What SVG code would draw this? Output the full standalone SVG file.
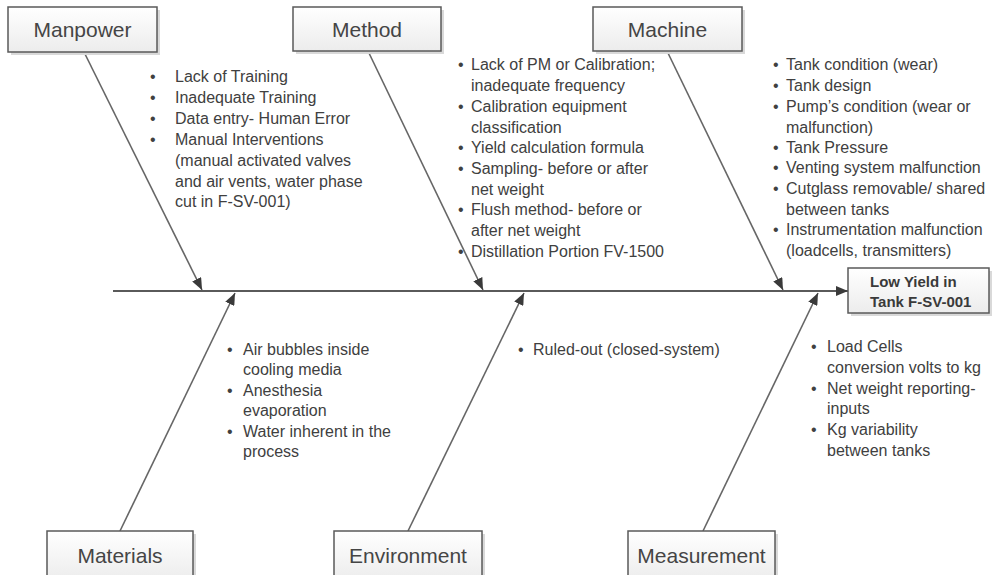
<svg xmlns="http://www.w3.org/2000/svg" width="994" height="575" viewBox="0 0 994 575">
<defs>
<linearGradient id="boxfill" x1="0" y1="0" x2="0" y2="1">
<stop offset="0" stop-color="#ffffff"/>
<stop offset="1" stop-color="#ececec"/>
</linearGradient>
<marker id="arr" viewBox="0 0 12 10" refX="12" refY="5" markerWidth="12" markerHeight="10" markerUnits="userSpaceOnUse" orient="auto">
<path d="M0,0 L12,5 L0,10 Z" fill="#3a3a3a"/>
</marker>
<style>
.box{fill:url(#boxfill);stroke:#5a5a5a;stroke-width:1.5}
.shadow{fill:#d9d9d9}
.lbl{font-family:"Liberation Sans",Arial,sans-serif;font-size:21px;fill:#454545;text-anchor:middle}
.t{font-family:"Liberation Sans",Arial,sans-serif;font-size:16px;fill:#404040}
.head{font-family:"Liberation Sans",Arial,sans-serif;font-size:15px;font-weight:bold;fill:#3a3a3a}
.bone{stroke:#666;stroke-width:1.6;fill:none}
.spine{stroke:#5a5a5a;stroke-width:2;fill:none}
</style>
</defs>
<rect width="994" height="575" fill="#ffffff"/>

<g id="connectors">
<line class="spine" x1="113" y1="291" x2="848" y2="291" marker-end="url(#arr)"/>
<line class="bone" x1="84" y1="52" x2="202" y2="290" marker-end="url(#arr)"/>
<line class="bone" x1="368" y1="51" x2="483" y2="290" marker-end="url(#arr)"/>
<line class="bone" x1="667" y1="51" x2="783" y2="290" marker-end="url(#arr)"/>
<line class="bone" x1="120" y1="531" x2="235" y2="293" marker-end="url(#arr)"/>
<line class="bone" x1="408" y1="531" x2="524" y2="293" marker-end="url(#arr)"/>
<line class="bone" x1="703" y1="531" x2="818" y2="293" marker-end="url(#arr)"/>
</g>

<g id="manpower">
<rect class="shadow" x="11" y="10" width="149" height="45"/>
<rect class="box" x="8" y="7" width="149" height="45"/>
<text class="lbl" x="82.5" y="37">Manpower</text>
</g>
<g id="method">
<rect class="shadow" x="296" y="10" width="148" height="44"/>
<rect class="box" x="293" y="7" width="148" height="44"/>
<text class="lbl" x="367" y="37">Method</text>
</g>
<g id="machine">
<rect class="shadow" x="596" y="10" width="149" height="44"/>
<rect class="box" x="593" y="7" width="149" height="44"/>
<text class="lbl" x="667.5" y="37">Machine</text>
</g>
<g id="materials">
<rect class="shadow" x="50" y="534" width="146" height="50"/>
<rect class="box" x="47" y="531" width="146" height="50"/>
<text class="lbl" x="120" y="563">Materials</text>
</g>
<g id="environment">
<rect class="shadow" x="337" y="534" width="148" height="50"/>
<rect class="box" x="334" y="531" width="148" height="50"/>
<text class="lbl" x="408" y="563">Environment</text>
</g>
<g id="measurement">
<rect class="shadow" x="631" y="534" width="147" height="50"/>
<rect class="box" x="628" y="531" width="147" height="50"/>
<text class="lbl" x="701.5" y="563">Measurement</text>
</g>
<g id="effect">
<rect class="shadow" x="851" y="271" width="141" height="45"/>
<rect class="box" x="848" y="268" width="141" height="45"/>
<text class="head" x="870" y="287">Low Yield in</text>
<text class="head" x="870" y="307">Tank F-SV-001</text>
</g>

<g id="manpower-causes" class="t">
<text x="150" y="82">•</text><text x="175" y="82">Lack of Training</text>
<text x="150" y="103">•</text><text x="175" y="103">Inadequate Training</text>
<text x="150" y="124">•</text><text x="175" y="124">Data entry- Human Error</text>
<text x="150" y="145">•</text><text x="175" y="145">Manual Interventions</text>
<text x="175" y="166">(manual activated valves</text>
<text x="175" y="187">and air vents, water phase</text>
<text x="175" y="207">cut in F-SV-001)</text>
</g>
<g id="method-causes" class="t">
<text x="458" y="70">•</text><text x="471" y="70">Lack of PM or Calibration;</text>
<text x="471" y="91">inadequate frequency</text>
<text x="458" y="112">•</text><text x="471" y="112">Calibration equipment</text>
<text x="471" y="133">classification</text>
<text x="458" y="153">•</text><text x="471" y="153">Yield calculation formula</text>
<text x="458" y="174">•</text><text x="471" y="174">Sampling- before or after</text>
<text x="471" y="195">net weight</text>
<text x="458" y="215">•</text><text x="471" y="215">Flush method- before or</text>
<text x="471" y="236">after net weight</text>
<text x="458" y="257">•</text><text x="471" y="257">Distillation Portion FV-1500</text>
</g>
<g id="machine-causes" class="t">
<text x="773" y="70">•</text><text x="786" y="70">Tank condition (wear)</text>
<text x="773" y="91">•</text><text x="786" y="91">Tank design</text>
<text x="773" y="112">•</text><text x="786" y="112">Pump’s condition (wear or</text>
<text x="786" y="133">malfunction)</text>
<text x="773" y="153">•</text><text x="786" y="153">Tank Pressure</text>
<text x="773" y="173">•</text><text x="786" y="173">Venting system malfunction</text>
<text x="773" y="194">•</text><text x="786" y="194">Cutglass removable/ shared</text>
<text x="786" y="215">between tanks</text>
<text x="773" y="235">•</text><text x="786" y="235">Instrumentation malfunction</text>
<text x="786" y="256">(loadcells, transmitters)</text>
</g>
<g id="materials-causes" class="t">
<text x="227" y="355">•</text><text x="243" y="355">Air bubbles inside</text>
<text x="243" y="375">cooling media</text>
<text x="227" y="396">•</text><text x="243" y="396">Anesthesia</text>
<text x="243" y="416">evaporation</text>
<text x="227" y="437">•</text><text x="243" y="437">Water inherent in the</text>
<text x="243" y="457">process</text>
</g>
<g id="environment-causes" class="t">
<text x="518" y="355">•</text><text x="533" y="355">Ruled-out (closed-system)</text>
</g>
<g id="measurement-causes" class="t">
<text x="811" y="352">•</text><text x="827" y="352">Load Cells</text>
<text x="827" y="373">conversion volts to kg</text>
<text x="811" y="394">•</text><text x="827" y="394">Net weight reporting-</text>
<text x="827" y="414">inputs</text>
<text x="811" y="435">•</text><text x="827" y="435">Kg variability</text>
<text x="827" y="456">between tanks</text>
</g>
</svg>
